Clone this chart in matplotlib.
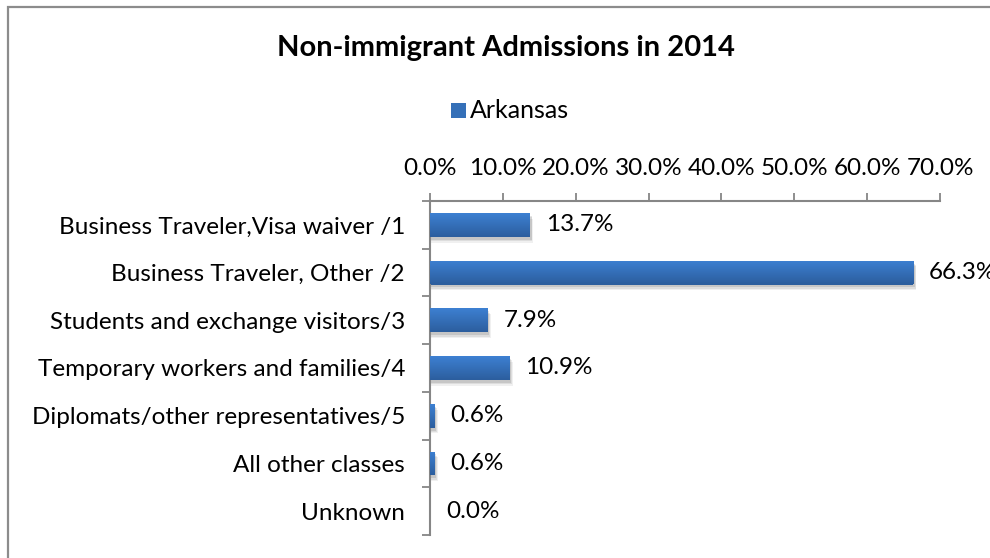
import matplotlib

matplotlib.use("Agg")
import matplotlib.pyplot as plt  # noqa: E402
import numpy as np  # noqa: E402
from matplotlib.patches import Rectangle  # noqa: E402
from matplotlib.ticker import FixedLocator  # noqa: E402

plt.rcParams["font.family"] = ["Lato", "DejaVu Sans"]

categories = [
    "Business Traveler,Visa waiver /1",
    "Business Traveler, Other /2",
    "Students and exchange visitors/3",
    "Temporary workers and families/4",
    "Diplomats/other representatives/5",
    "All other classes",
    "Unknown",
]
arkansas = [13.7, 66.3, 7.9, 10.9, 0.6, 0.6, 0.0]
x_ticks = [0, 10, 20, 30, 40, 50, 60, 70]

AXIS_GREY = "#868686"
TOP_BLUE = np.array([0x3d, 0x80, 0xd2]) / 255
BOTTOM_BLUE = np.array([0x2c, 0x5e, 0x9e]) / 255
TXT = 17.5

fig = plt.figure(figsize=(9.9, 5.58), dpi=100)
ax = fig.add_axes([430 / 990, 1 - 535 / 558, 510 / 990, 334 / 558])

y = np.arange(len(categories))
bar_h = 0.5
ax.set_xlim(0, 70)
ax.set_ylim(len(categories) - 0.5, -0.5)

# soft drop shadow, then the bars themselves
for yi, v in zip(y, arkansas):
    if v <= 0:
        continue
    for k, a in enumerate([0.10, 0.08, 0.06]):
        ax.add_patch(Rectangle((0.15, yi - bar_h / 2 + 0.06 + k * 0.03), v + 0.1 + k * 0.1,
                               bar_h, color="black", alpha=a, lw=0, zorder=1))

bars = ax.barh(y, arkansas, height=bar_h, color=BOTTOM_BLUE, zorder=2)

# vertical gradient inside each bar
grad = np.linspace(0, 1, 64)[:, None]
grad_img = TOP_BLUE[None, None, :] * (1 - grad[..., None]) + BOTTOM_BLUE[None, None, :] * grad[..., None]
for bar in bars:
    w = bar.get_width()
    if w <= 0:
        continue
    y0 = bar.get_y()
    im = ax.imshow(grad_img, extent=(0, w, y0 + bar_h, y0), aspect="auto", zorder=3,
                   interpolation="bilinear")
    im.set_clip_path(bar)
ax.set_xlim(0, 70)
ax.set_ylim(len(categories) - 0.5, -0.5)

for yi, v in zip(y, arkansas):
    ax.text(v + 2.2, yi, f"{v:.1f}%", va="center", ha="left", fontsize=TXT,
            color="black", clip_on=False)

# axis styling
for side in ["right", "bottom"]:
    ax.spines[side].set_visible(False)
for side in ["top", "left"]:
    ax.spines[side].set_color(AXIS_GREY)
    ax.spines[side].set_linewidth(1.5)

ax.xaxis.tick_top()
ax.set_xticks(x_ticks)
ax.set_xticklabels([f"{t:.1f}%" for t in x_ticks], fontsize=TXT)
ax.tick_params(axis="x", which="major", length=5.5, width=1.3, color=AXIS_GREY, pad=10)

ax.set_yticks(y)
ax.set_yticklabels(categories, fontsize=TXT)
ax.tick_params(axis="y", which="major", length=0, pad=18)
ax.yaxis.set_minor_locator(FixedLocator(np.arange(-0.5, len(categories), 1.0)))
ax.tick_params(axis="y", which="minor", length=6, width=1.3, color=AXIS_GREY)

fig.text(506 / 990, 1 - 48 / 558, "Non-immigrant Admissions in 2014", ha="center",
         va="center", fontsize=21, fontweight="bold")

# legend
fig.patches.append(Rectangle((451 / 990, 1 - 118 / 558), 15 / 990, 15 / 558,
                             transform=fig.transFigure, facecolor="#3570b8", lw=0))
fig.text(470 / 990, 1 - 110 / 558, "Arkansas", ha="left", va="center", fontsize=TXT + 0.5)

# chart area frame
fig.patches.append(Rectangle((8 / 990, -0.1), 1.1, 1 - 7 / 558 + 0.1,
                             transform=fig.transFigure, fill=False,
                             edgecolor="#8c8c8c", lw=1.6))

fig.savefig("out.png", dpi=100)
